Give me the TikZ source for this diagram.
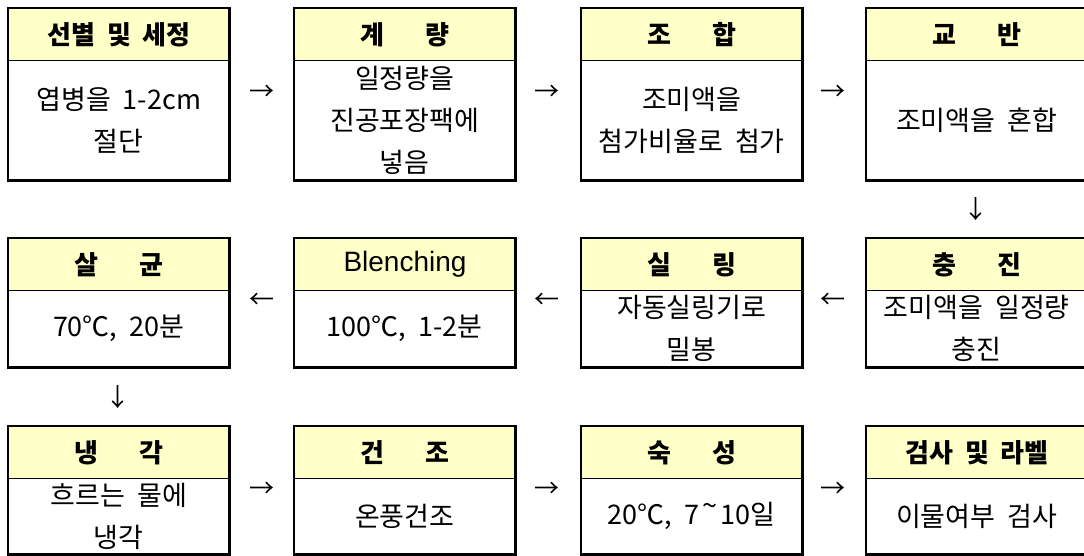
\documentclass[tikz,border=0pt]{standalone}
\usepackage{fontspec}
\setmainfont[WordSpace=2]{Noto Sans CJK KR}
\newfontfamily\latinfont{Liberation Sans}
\definecolor{hdrfill}{RGB}{255,255,200}
\newcommand\procbox[7]{%
  \node[hdr, minimum height={#4-#3}] (#1h) at (#2,#3) {#6};
  \node[bodybox, minimum height={#5-#4}] (#1b) at (#2,#4) {#7};
  \draw[outline] (#1h.north west) rectangle (#1b.south east);
}
\newcommand\gap{\hspace{1.6em}}
\begin{document}
\begin{tikzpicture}[x=1pt,y=-1pt,
  hdr/.style={draw=black, line width=1pt, fill=hdrfill, minimum width=221pt,
    inner sep=0pt, anchor=north west, font=\fontsize{26}{26}\selectfont\bfseries},
  bodybox/.style={minimum width=221pt, inner sep=0pt, anchor=north west,
    align=center, font=\fontsize{27}{42}\selectfont},
  outline/.style={draw=black, line width=2.6pt},
  arrowglyph/.style={inner sep=0pt, font=\fontsize{25}{25}\selectfont}
]
\clip (0,0) rectangle (1084,556);
\fill[white] (0,0) rectangle (1084,556);
% row 1
\procbox{s1}{8}{8}{60}{180}{선별 및 세정}{엽병을 1-2cm\\절단}
\procbox{s2}{294}{8}{60}{180}{계\gap 량}{일정량을\\진공포장팩에\\넣음}
\procbox{s3}{581}{8}{60}{180}{조\gap 합}{조미액을\\첨가비율로 첨가}
\procbox{s4}{866}{8}{60}{180}{교\gap 반}{조미액을 혼합}
% row 2
\procbox{s5}{866}{238}{290}{367}{충\gap 진}{조미액을 일정량\\충진}
\procbox{s6}{581}{238}{290}{367}{실\gap 링}{자동실링기로\\밀봉}
\procbox{s7}{294}{238}{290}{367}{{\latinfont\mdseries\fontsize{28}{28}\selectfont Blenching}}{100℃, 1-2분}
\procbox{s8}{8}{238}{290}{367}{살\gap 균}{70℃, 20분}
% row 3
\procbox{s9}{8}{426}{478}{554}{냉\gap 각}{흐르는 물에\\냉각}
\procbox{s10}{294}{426}{478}{554}{건\gap 조}{온풍건조}
\procbox{s11}{581}{426}{478}{554}{숙\gap 성}{20℃, 7\hspace{0.12em}\raisebox{0.35em}{\char"7E}\hspace{0.12em}10일}
\procbox{s12}{866}{426}{478}{554}{검사 및 라벨}{이물여부 검사}
% arrows (text glyphs)
\node[arrowglyph] (a1) at (262,93) {→};
\node[arrowglyph] (a2) at (547,93) {→};
\node[arrowglyph] (a3) at (833,93) {→};
\node[arrowglyph] (a4) at (976,209) {↓};
\node[arrowglyph] (a5) at (833,301) {←};
\node[arrowglyph] (a6) at (547,301) {←};
\node[arrowglyph] (a7) at (262,301) {←};
\node[arrowglyph] (a8) at (118,397) {↓};
\node[arrowglyph] (a9) at (262,490) {→};
\node[arrowglyph] (a10) at (547,490) {→};
\node[arrowglyph] (a11) at (833,490) {→};
\end{tikzpicture}
\end{document}
